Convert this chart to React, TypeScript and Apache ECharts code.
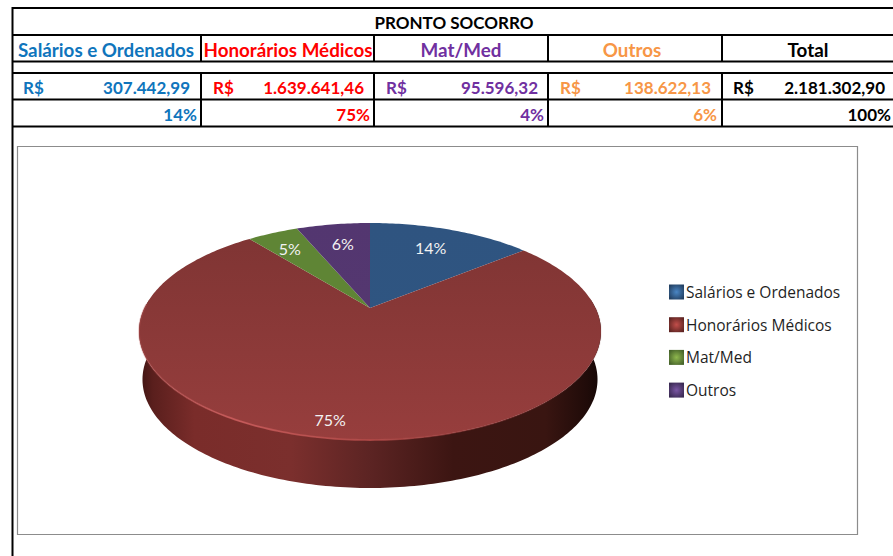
import React, { useEffect, useRef } from "react";
import * as echarts from "echarts";

const title = "PRONTO SOCORRO";
const categories = ["Salários e Ordenados", "Honorários Médicos", "Mat/Med", "Outros"];
const amounts = [307442.99, 1639641.46, 95596.32, 138622.13];
const amountTexts = ["307.442,99", "1.639.641,46", "95.596,32", "138.622,13", "2.181.302,90"];
const tableHeaders = [...categories, "Total"];
const tablePercents = ["14%", "75%", "4%", "6%", "100%"];
const pieLabels = ["14%", "75%", "5%", "6%"];
const tableColors = ["#0F75BC", "#FF0000", "#7030A0", "#F79646", "#000000"];
const sliceTop = ["#2F5480", "#7E3433", "#5F8535", "#533670"];
const sliceBottom = ["#2F5682", "#973E3D", "#5F8535", "#56396F"];
const legendMid = ["#4A86C4", "#C24E4A", "#8FB84E", "#7A56A4"];
const legendEdge = ["#234062", "#5E2422", "#46632A", "#3A2A52"];

const FONT = "Lato";
const CX = 370, CY = 308, R = 225.5, A = 103.4, K = 0.2166, DEPTH = 48;
const labelFractions = [0.73, 0.88, 0.73, 0.73];
const labelNudge = [[-1, -1], [-14, 0], [-6, -2], [1, 0]];

function project(deg: number, f = 1) {
  const t = (deg * Math.PI) / 180;
  const u = f * Math.sin(t), v = f * Math.cos(t);
  const d = 1 + K * v;
  return [CX + (R * u) / d, CY - (A * v) / d];
}
function arc(from: number, to: number) {
  const pts: number[][] = [];
  const n = Math.max(2, Math.ceil(Math.abs(to - from)));
  for (let i = 0; i <= n; i++) pts.push(project(from + ((to - from) * i) / n));
  return pts;
}
const lower = (p: number[]) => [CX + (p[0] - CX) * 0.985, p[1] + DEPTH];

const renderSlice = (index: number) => (_p: any, api: any) => {
  const total = amounts.reduce((a, b) => a + b, 0);
  const before = amounts.slice(0, index).reduce((a, b) => a + b, 0);
  const value = api.value(0);
  const start = (before / total) * 360;
  const end = start + (value / total) * 360;
  const children: any[] = [];
  const a0 = Math.max(start, 85), a1 = Math.min(end, 275);
  if (a1 > a0) {
    const top = arc(a0, a1);
    children.push({
      type: "polygon",
      shape: { points: [...top, ...top.slice().reverse().map(lower)] },
      style: {
        fill: {
          type: "linear", global: true, x: 139, y: 0, x2: 601, y2: 0,
          colorStops: [
            { offset: 0, color: "#3E1412" },
            { offset: 0.03, color: "#5A1F1D" },
            { offset: 0.12, color: "#7A2C2A" },
            { offset: 0.33, color: "#7B2F2D" },
            { offset: 0.5, color: "#5C2423" },
            { offset: 0.68, color: "#3C1512" },
            { offset: 0.88, color: "#391511" },
            { offset: 0.97, color: "#200B09" },
            { offset: 1, color: "#140706" },
          ],
        },
      },
    });
  }
  children.push({
    type: "polygon",
    shape: { points: [[CX, CY], ...arc(start, end)] },
    style: {
      fill: {
        type: "linear", global: true, x: 0, y: 223, x2: 0, y2: 440,
        colorStops: [
          { offset: 0, color: sliceTop[index] },
          { offset: 1, color: sliceBottom[index] },
        ],
      },
    },
  });
  if (a1 > a0) {
    children.push({
      type: "polyline",
      shape: { points: arc(a0 + 5, a1 - 3) },
      style: {
        fill: "none",
        lineWidth: 1.8,
        stroke: {
          type: "linear", global: true, x: 139, y: 0, x2: 601, y2: 0,
          colorStops: [
            { offset: 0, color: "rgba(190,85,85,0.3)" },
            { offset: 0.2, color: "rgba(200,90,90,0.9)" },
            { offset: 0.5, color: "rgba(175,72,70,0.9)" },
            { offset: 0.8, color: "rgba(150,60,60,0.5)" },
            { offset: 1, color: "rgba(120,50,50,0.1)" },
          ],
        },
      },
    });
  }
  const lp = project((start + end) / 2, labelFractions[index]);
  children.push({
    type: "text",
    x: lp[0] + labelNudge[index][0],
    y: lp[1] + labelNudge[index][1],
    style: {
      text: pieLabels[index], fill: "#F2F2F2", font: `16px ${FONT}`,
      textAlign: "center", textVerticalAlign: "middle",
    },
  });
  return { type: "group", children };
};

const hLine = (y: number, x1 = 12, x2 = 893) => ({
  type: "line", shape: { x1, y1: y, x2, y2: y }, style: { stroke: "#000", lineWidth: 2 },
});
const vLine = (x: number, y1: number, y2: number) => ({
  type: "line", shape: { x1: x, y1, x2: x, y2 }, style: { stroke: "#000", lineWidth: 2 },
});
const txt = (text: string, x: number, y: number, fill: string, textAlign: string, size: number) => ({
  type: "text", x, y,
  style: { text, fill, font: `bold ${size}px ${FONT}`, textAlign, textVerticalAlign: "middle" },
});

const headerCenters = [106, 288, 461, 632, 808];
const currencyX = [23, 213, 386, 560, 733];
const amountRight = [190, 364, 538, 711, 885];
const percentRight = [197, 370, 544, 717, 891];
const separators = [201, 374, 548, 722];

export default function App() {
  const ref = useRef<HTMLDivElement>(null);
  useEffect(() => {
    const chart = echarts.init(ref.current!, null, { renderer: "svg" });
    chart.setOption({
      animation: false,
      backgroundColor: "#fff",
      legend: {
        orient: "vertical", left: 664, top: 279,
        itemWidth: 15, itemHeight: 15, itemGap: 16.7,
        icon: "rect",
        selectedMode: false,
        textStyle: { fontFamily: "Open Sans", fontSize: 15.5, color: "#1F1F1F", padding: [0, 0, 0, -3] },
        data: categories.map((name, i) => ({
          name,
          itemStyle: {
            color: {
              type: "radial", x: 0.5, y: 0.5, r: 0.6,
              colorStops: [
                { offset: 0, color: legendMid[i] },
                { offset: 1, color: legendEdge[i] },
              ],
            },
            borderWidth: 0,
          },
        })),
      },
      series: categories.map((name, i) => ({
        type: "custom",
        name,
        coordinateSystem: "none",
        silent: true,
        z: 3 + i,
        itemStyle: { color: sliceTop[i] },
        data: [[amounts[i]]],
        encode: { value: 0 },
        renderItem: renderSlice(i),
      })),
      graphic: [
        { type: "rect", z: -2, shape: { x: 17.5, y: 146.5, width: 840, height: 388 }, style: { fill: "#fff", stroke: "#8C8C8C", lineWidth: 1.2 } },
        hLine(8), hLine(35), hLine(61.5), hLine(73), hLine(99.5), hLine(126.5),
        vLine(12.5, 7, 556),
        ...separators.flatMap((x) => [vLine(x, 35, 61.5), vLine(x, 73, 126.5)]),
        txt(title, 454, 22, "#000", "center", 17),
        ...tableHeaders.map((t, i) => txt(t, headerCenters[i], 49.5, tableColors[i], "center", 18.8)),
        ...tableHeaders.map((_t, i) => txt("R$", currencyX[i], 87, tableColors[i], "left", 17)),
        ...amountTexts.map((t, i) => txt(t, amountRight[i], 87, tableColors[i], "right", 17)),
        ...tablePercents.map((t, i) => txt(t, percentRight[i], 114.5, tableColors[i], "right", 17)),
      ],
    });
    return () => chart.dispose();
  }, []);
  return <div ref={ref} style={{ position: "absolute", left: 0, top: 0, width: 893, height: 556 }} />;
}
